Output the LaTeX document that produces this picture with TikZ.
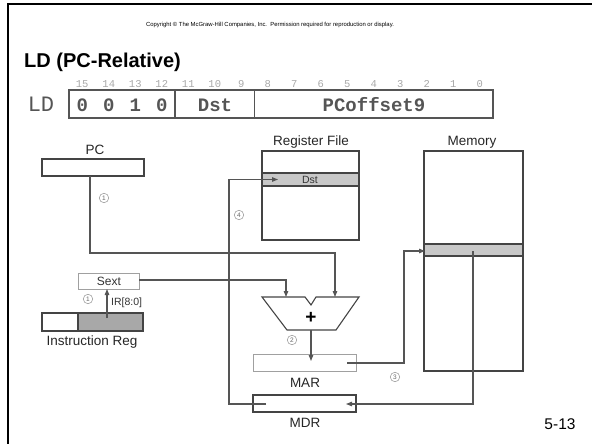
\documentclass[tikz,border=0pt]{standalone}
\usepackage{fontspec}
\setmainfont{Liberation Sans}
\newfontfamily\monofont{Liberation Mono}
\usetikzlibrary{arrows.meta}
\definecolor{linegray}{HTML}{555555}
\definecolor{boxgray}{HTML}{444444}
\definecolor{lightgray2}{HTML}{A0A0A0}
\definecolor{rowgray}{HTML}{C8C8C8}
\definecolor{irgray}{HTML}{A8A8A8}
\definecolor{numgray}{HTML}{A8A8A8}
\tikzset{
  conn/.style={draw=linegray, line width=1.1pt},
  arr/.style={conn, -{Stealth[length=6pt,width=4.5pt,inset=0pt]}},
  regbox/.style={draw=boxgray, line width=1.1pt},
  lightbox/.style={draw=lightgray2, line width=1pt},
  lab/.style={font=\fontsize{13.5}{14}\selectfont, text=black!85, inner sep=0pt},
  circnum/.style={circle, draw=lightgray2, line width=0.6pt, minimum size=9.5pt, inner sep=0pt, font=\fontsize{6.5}{7}\selectfont, text=black!60},
  bitnum/.style={font=\monofont\fontsize{10.5}{11}\selectfont, text=numgray, inner sep=0pt},
  bitfld/.style={font=\monofont\bfseries\fontsize{19}{20}\selectfont, text=linegray, inner sep=0pt},
}
\begin{document}
\begin{tikzpicture}[x=1pt,y=-1pt]
\useasboundingbox (0,0) rectangle (592,444);
% frame
\draw[line width=2.5pt, black] (8,444) -- (8,4) -- (592,4);
% copyright & title
\node[font=\fontsize{5.9}{7}\selectfont, inner sep=0pt] (copy) at (270,25) {Copyright \textcopyright{} The McGraw-Hill Companies, Inc.\ \ Permission required for reproduction or display.};
\node[font=\bfseries\fontsize{20}{22}\selectfont, anchor=west, inner sep=0pt] (title) at (24,62) {LD (PC-Relative)};
% instruction format
\node[font=\monofont\fontsize{22}{24}\selectfont, text=linegray, inner sep=0pt] (ldlab) at (41,104) {LD};
\draw[draw=linegray, line width=1.1pt] (69,90) rectangle (493,118);
\draw[draw=linegray, line width=1.1pt] (175,90) -- (175,118);
\draw[draw=linegray, line width=1.1pt] (254.5,90) -- (254.5,118);
\foreach \b in {0,...,15}{
  \node[bitnum] (bit\b) at ({69+(15-\b+0.5)*26.5},84) {\b};
}
\node[bitfld] (f15) at ({69+0.5*26.5},105) {0};
\node[bitfld] (f14) at ({69+1.5*26.5},105) {0};
\node[bitfld] (f13) at ({69+2.5*26.5},105) {1};
\node[bitfld] (f12) at ({69+3.5*26.5},105) {0};
\node[bitfld] (fdst) at (215,105) {Dst};
\node[bitfld] (foff) at (374,105) {PCoffset9};
% PC
\node[lab] (pclab) at (95,150) {PC};
\draw[regbox] (42,159) rectangle (144,176);
\coordinate (pcout) at (90,176);
% Register file
\node[lab] (rflab) at (311,142) {Register File};
\fill[rowgray] (262,173) rectangle (359,186);
\draw[regbox] (262,151) rectangle (359,240);
\draw[regbox] (262,173) -- (359,173) (262,186) -- (359,186);
\node[font=\fontsize{10.5}{11}\selectfont, inner sep=0pt, text=black!80] (rfdst) at (310,179.5) {Dst};
\coordinate (rfin) at (278,179.5);
% Memory
\node[lab] (memlab) at (472,142) {Memory};
\fill[rowgray] (424,244) rectangle (523,256);
\draw[regbox] (424,151) rectangle (523,371);
\draw[regbox] (424,244) -- (523,244) (424,256) -- (523,256);
\coordinate (memin) at (425,251);
\coordinate (memout) at (473,251);
% Sext
\draw[lightbox] (78,273) rectangle (139,289);
\node[font=\fontsize{12}{13}\selectfont, inner sep=0pt, text=black!80] (sext) at (109,281) {Sext};
\coordinate (sextout) at (139,280);
\coordinate (sextin) at (107,289);
% IR
\fill[irgray] (78,313) rectangle (143,331);
\draw[regbox] (42,313) rectangle (143,331);
\draw[regbox] (78,313) -- (78,331);
\coordinate (irout) at (107,318);
\node[font=\fontsize{10.5}{11}\selectfont, inner sep=0pt, anchor=west, text=black!80] (irlab) at (111,303) {IR[8:0]};
\node[lab] (irname) at (92,342) {Instruction Reg};
% Adder
\draw[regbox, line join=miter] (262,297) -- (305,297) -- (311,305) -- (316,297) -- (359,297) -- (336,330) -- (287,330) -- cycle;
\node[font=\bfseries\fontsize{19}{20}\selectfont, inner sep=0pt] (plus) at (311,318) {+};
\coordinate (addl) at (286,297);
\coordinate (addr) at (335,297);
\coordinate (addout) at (311,330);
% MAR / MDR
\draw[lightbox] (253,354) rectangle (356,371);
\node[lab] (marlab) at (305,383) {MAR};
\coordinate (marin) at (311,361);
\coordinate (marout) at (347,363);
\draw[regbox] (253,395) rectangle (356,412);
\node[lab] (mdrlab) at (305,423) {MDR};
\coordinate (mdrin) at (346,404);
\coordinate (mdrout) at (266,404);
% page number
\node[font=\fontsize{15.5}{16}\selectfont, inner sep=0pt] (page) at (560,424) {5-13};
% connectors
\draw[arr] (pcout) -- (90,253) -| (addr);
\draw[arr] (sextout) -| (addl);
\draw[arr] (irout) -- (sextin);
\draw[arr] (addout) -- (marin);
\draw[arr] (marout) -| (404,251) -- (memin);
\draw[arr] (memout) |- (mdrin);
\draw[arr] (mdrout) -| (229,179.5) -- (rfin);
% step circles
\node[circnum] (c1a) at (104,198) {1};
\node[circnum] (c4) at (239,215) {4};
\node[circnum] (c1b) at (88,299) {1};
\node[circnum] (c2) at (292,340) {2};
\node[circnum] (c3) at (395,377) {3};
\end{tikzpicture}
\end{document}
